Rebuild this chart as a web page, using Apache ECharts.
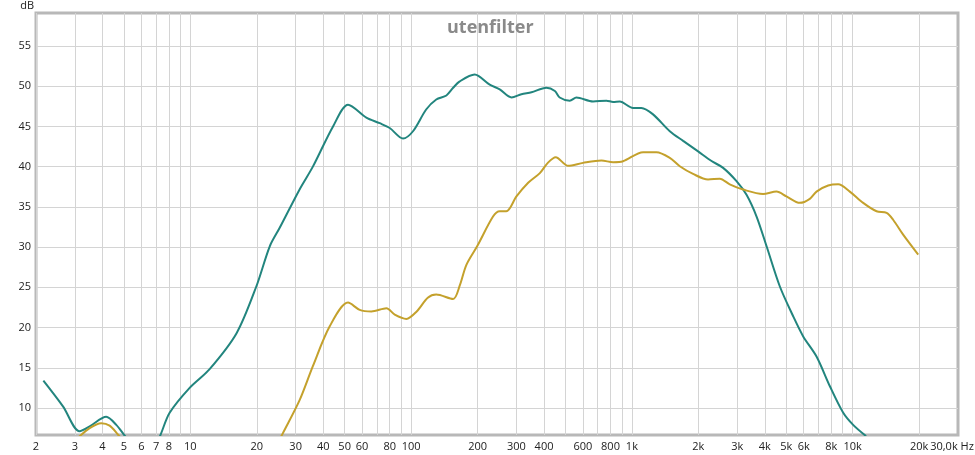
<!DOCTYPE html>
<html>
<head>
<meta charset="utf-8">
<script src="https://cdn.jsdelivr.net/npm/echarts@6/dist/echarts.min.js"></script>
<style>
  html, body { margin: 0; padding: 0; background: #fff; }
  #chart { width: 975px; height: 455px; }
</style>
</head>
<body>
<div id="chart"></div>
<script>
// frequency grid lines (Hz)
var gridFreqs = [2, 3, 4, 5, 6, 7, 8, 9, 10, 20, 30, 40, 50, 60, 70, 80, 90,
  100, 200, 300, 400, 500, 600, 700, 800, 900,
  1000, 2000, 3000, 4000, 5000, 6000, 7000, 8000, 9000, 10000, 20000];
// labelled frequencies and their texts
var labelFreqs = [2, 3, 4, 5, 6, 7, 8, 10, 20, 30, 40, 50, 60, 80, 100, 200, 300, 400, 600, 800,
  1000, 2000, 3000, 4000, 5000, 6000, 8000, 10000, 20000, 30000];
var labelTexts = ["2", "3", "4", "5", "6", "7", "8", "10", "20", "30", "40", "50", "60", "80", "100",
  "200", "300", "400", "600", "800", "1k", "2k", "3k", "4k", "5k", "6k", "8k", "10k", "20k", "30,0k Hz"];
var yTicks = [10, 15, 20, 25, 30, 35, 40, 45, 50, 55];

// teal curve
var tealFreq = [2.16, 2.65, 3.15, 3.5, 4.16, 4.62, 5.1, 5.5, 6.0, 6.9, 7.26, 8.06, 9.93, 12.2, 16.2, 19.9,
  22.9, 25.4, 31.3, 35.9, 44.3, 51.8, 62.7, 72.1, 80, 91.9, 102, 117, 130, 144.5, 155, 166, 194,
  227, 252, 285, 316, 351, 410, 448, 471, 523, 561, 667, 767, 822, 881, 1012, 1104, 1247, 1485,
  1707, 1995, 2295, 2590, 2978, 3306, 3671, 4075, 4680, 5377, 5970, 6860, 7886, 9062, 10050, 11500];
var tealDb = [13.4, 10.2, 7.1, 7.7, 8.9, 7.9, 6.4, 5.5, null, 5.5, 6.4, 9.4, 12.5, 14.8, 19.3, 25.1,
  30.1, 32.4, 37.2, 40.0, 45.0, 47.7, 46.1, 45.4, 44.8, 43.5, 44.4, 47.1, 48.35, 48.85, 49.8, 50.6, 51.45,
  50.2, 49.6, 48.6, 49.0, 49.25, 49.8, 49.4, 48.6, 48.2, 48.6, 48.1, 48.2, 48.05, 48.1, 47.3, 47.3, 46.5, 44.4,
  43.2, 41.9, 40.7, 39.85, 38.2, 36.5, 33.8, 30.1, 25.1, 21.4, 18.9, 16.4, 12.7, 9.4, 7.9, 6.5];

// golden curve
var goldFreq = [3.1, 3.5, 3.95, 4.31, 4.7, 5.0, 10, 25.5, 26.3, 31.3, 35.9, 42.8, 51.8, 58.5, 66.1, 77.3,
  84.3, 95.2, 106, 119, 130, 155, 166, 178, 200, 235, 252, 270, 300, 339, 383, 417, 452, 514, 601,
  728, 822, 912, 1124, 1292, 1485, 1648, 1893, 2213, 2500, 2775, 3190, 3928, 4518, 5012, 5767, 6396,
  6860, 7745, 8598, 9705, 11160, 12830, 14250, 15250, 16930, 19810];
var goldDb = [6.3, 7.5, 8.1, 7.8, 6.7, 5.8, null, 6.2, 6.9, 11.0, 15.2, 20.15, 23.1, 22.2, 22.0, 22.4,
  21.6, 21.07, 22.0, 23.7, 24.1, 23.55, 25.2, 27.8, 30.2, 33.8, 34.45, 34.45, 36.3, 38.0, 39.2, 40.5, 41.17, 40.1, 40.47,
  40.76, 40.55, 40.67, 41.8, 41.8, 41.1, 40.05, 39.1, 38.4, 38.5, 37.8, 37.15, 36.6, 36.9, 36.3, 35.5, 36.0,
  36.9, 37.65, 37.8, 36.9, 35.5, 34.45, 34.25, 33.4, 31.55, 29.07];

function toPoints(freqs, dbs) {
  var pts = [];
  for (var i = 0; i < freqs.length; i++) {
    pts.push([Math.log10(freqs[i]), dbs[i] === null ? "-" : dbs[i]]);
  }
  return pts;
}

var logLabelVals = labelFreqs.map(function (f) { return Math.log10(f); });

var chartDom = document.getElementById("chart");
var myChart = echarts.init(chartDom);
var option;

option = {
  animation: false,
  backgroundColor: "#fff",
  title: {
    text: "utenfilter",
    left: 442,
    top: 14,
    textStyle: { color: "#8a8a8a", fontSize: 18, fontWeight: "bold", fontFamily: "Open Sans" }
  },
  grid: {
    left: 36, right: 17, top: 13, bottom: 20,
    containLabel: false,
    outerBoundsMode: "none",
    show: true,
    borderColor: "#b8b8b8",
    borderWidth: 3,
    backgroundColor: "#fff"
  },
  xAxis: {
    type: "value",
    min: Math.log10(2),
    max: Math.log10(30000),
    axisLine: { show: false },
    axisTick: { show: false, customValues: gridFreqs.map(function (f) { return Math.log10(f); }) },
    splitLine: { show: true, lineStyle: { color: "#d4d4d4", width: 1 } },
    axisLabel: {
      customValues: logLabelVals,
      margin: 6,
      color: "#222",
      fontSize: 11,
      fontFamily: "Open Sans",
      formatter: function (v) {
        for (var i = 0; i < logLabelVals.length; i++) {
          if (Math.abs(logLabelVals[i] - v) < 1e-6) {
            // last label sits a bit left of the edge
            if (i === logLabelVals.length - 1) return "{e|" + labelTexts[i] + "}";
            return labelTexts[i];
          }
        }
        return "";
      },
      rich: {
        e: { color: "#222", fontSize: 11, fontFamily: "Open Sans", padding: [0, 12, 0, 0] }
      }
    }
  },
  yAxis: {
    type: "value",
    min: 6.64,
    max: 59.1,
    name: "dB",
    nameLocation: "end",
    nameGap: 2,
    nameTextStyle: { color: "#222", fontSize: 11, fontFamily: "Open Sans", align: "right", padding: [0, 2, 0, 0] },
    axisLine: { show: false },
    axisTick: { show: false, customValues: yTicks },
    splitLine: { show: true, lineStyle: { color: "#d4d4d4", width: 1 } },
    axisLabel: {
      customValues: yTicks,
      margin: 5,
      color: "#222",
      fontSize: 11,
      fontFamily: "Open Sans"
    }
  },
  series: [
    {
      name: "teal",
      type: "line",
      data: toPoints(tealFreq, tealDb),
      showSymbol: false,
      smooth: 0.3,
      clip: true,
      connectNulls: false,
      lineStyle: { color: "#22857e", width: 2 },
      itemStyle: { color: "#22857e" }
    },
    {
      name: "gold",
      type: "line",
      data: toPoints(goldFreq, goldDb),
      showSymbol: false,
      smooth: 0.3,
      clip: true,
      connectNulls: false,
      lineStyle: { color: "#c4a12c", width: 2 },
      itemStyle: { color: "#c4a12c" }
    }
  ]
};

option && myChart.setOption(option);
</script>
</body>
</html>
